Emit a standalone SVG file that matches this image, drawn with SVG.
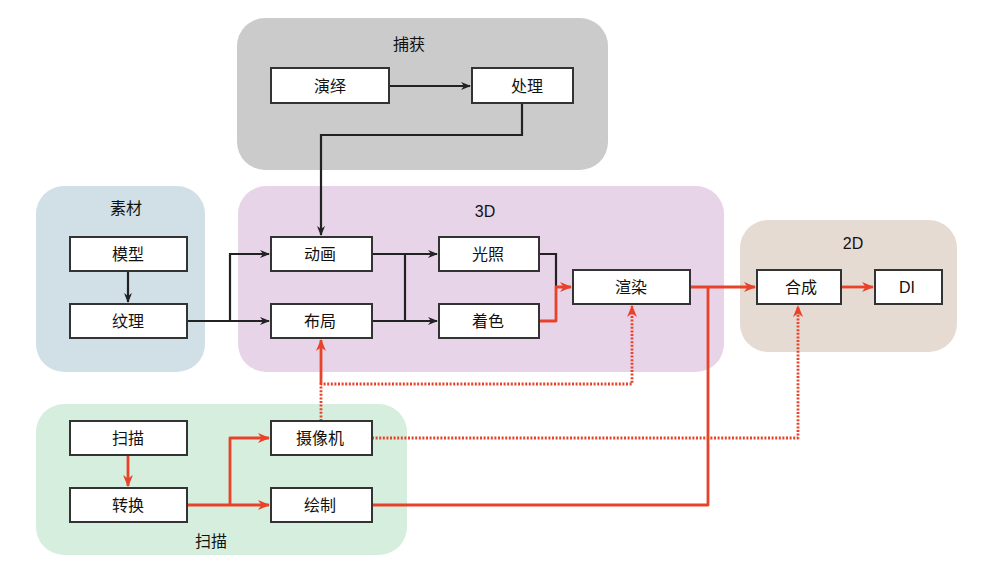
<svg xmlns="http://www.w3.org/2000/svg" width="983" height="573" viewBox="0 0 983 573">
<style>
.grp{stroke:none}
.node rect{fill:#fff;stroke:#333;stroke-width:2}
text{font-family:"Liberation Sans","Noto Sans CJK SC",sans-serif;font-size:16px;fill:#111;text-anchor:middle;dominant-baseline:central}
.k{fill:none;stroke:#222;stroke-width:2.2}
.r{fill:none;stroke:#e8432a;stroke-width:2.8;stroke-linejoin:round}
.d{fill:none;stroke:#e8432a;stroke-width:2.8;stroke-dasharray:2 1.6;stroke-linejoin:round}
</style>
<defs>
<marker id="ak" markerWidth="10" markerHeight="10" refX="9" refY="5" orient="auto" markerUnits="userSpaceOnUse"><path d="M0,1 L10,5 L0,9 L3,5 z" fill="#222"/></marker>
<marker id="ar" markerWidth="12" markerHeight="12" refX="11" refY="6" orient="auto" markerUnits="userSpaceOnUse"><path d="M0,1 L12,6 L0,11 L3.5,6 z" fill="#e8432a"/></marker>
</defs>
<rect width="983" height="573" fill="#fff"/>
<g id="group-capture"><rect class="grp" x="237" y="18" width="371" height="152" rx="28" fill="#cbcbcb"/><text x="409" y="44">捕获</text></g>
<g id="group-assets"><rect class="grp" x="36" y="186" width="169" height="186" rx="28" fill="#d0e0e6"/><text x="126" y="208">素材</text></g>
<g id="group-3d"><rect class="grp" x="238" y="186" width="486" height="186" rx="28" fill="#e8d4e8"/><text x="485" y="211">3D</text></g>
<g id="group-2d"><rect class="grp" x="740" y="220" width="217" height="132" rx="28" fill="#e6dbd3"/><text x="853" y="243">2D</text></g>
<g id="group-scan"><rect class="grp" x="36" y="404" width="371" height="151" rx="28" fill="#d6eedd"/><text x="211" y="541">扫描</text></g>

<g id="connectors">
<path class="k" d="M389,86 H470" marker-end="url(#ak)"/>
<path class="k" d="M522,103 V135 H321 V235" marker-end="url(#ak)"/>
<path class="k" d="M128,271 V302" marker-end="url(#ak)"/>
<path class="k" d="M187,321 H269" marker-end="url(#ak)"/>
<path class="k" d="M230,321 V254 H269" marker-end="url(#ak)"/>
<path class="k" d="M372,254 H437" marker-end="url(#ak)"/>
<path class="k" d="M372,321 H437" marker-end="url(#ak)"/>
<path class="k" d="M405,254 V321"/>
<path class="k" d="M539,254 H556 V287"/>
<path class="r" d="M539,321 H556 V287 H571" marker-end="url(#ar)"/>
<path class="r" d="M690,287 H755" marker-end="url(#ar)"/>
<path class="r" d="M372,505 H708 V287"/>
<path class="r" d="M841,287 H873" marker-end="url(#ar)"/>
<path class="r" d="M128,455 V486" marker-end="url(#ar)"/>
<path class="r" d="M187,505 H269" marker-end="url(#ar)"/>
<path class="r" d="M230,505 V438 H269" marker-end="url(#ar)"/>
<path class="r" d="M321,384 V340" marker-end="url(#ar)"/>
<path class="d" d="M321,421 V384 H632 V306" marker-end="url(#ar)"/>
<path class="d" d="M372,438 H798 V306" marker-end="url(#ar)"/>
</g>

<g id="n-yanyi" class="node"><rect x="271" y="68" width="118" height="35"/><text x="330" y="86">演绎</text></g>
<g id="n-chuli" class="node"><rect x="472" y="68" width="101" height="35"/><text x="527" y="86">处理</text></g>
<g id="n-moxing" class="node"><rect x="70" y="237" width="117" height="34"/><text x="128" y="254">模型</text></g>
<g id="n-wenli" class="node"><rect x="70" y="304" width="117" height="34"/><text x="128" y="321">纹理</text></g>
<g id="n-donghua" class="node"><rect x="271" y="237" width="101" height="34"/><text x="320" y="254">动画</text></g>
<g id="n-buju" class="node"><rect x="271" y="304" width="101" height="34"/><text x="320" y="321">布局</text></g>
<g id="n-guangzhao" class="node"><rect x="439" y="237" width="100" height="34"/><text x="488" y="254">光照</text></g>
<g id="n-zhuose" class="node"><rect x="439" y="304" width="100" height="34"/><text x="488" y="321">着色</text></g>
<g id="n-xuanran" class="node"><rect x="573" y="270" width="117" height="34"/><text x="631" y="287">渲染</text></g>
<g id="n-hecheng" class="node"><rect x="757" y="270" width="84" height="34"/><text x="801" y="287">合成</text></g>
<g id="n-di" class="node"><rect x="875" y="270" width="67" height="34"/><text x="907" y="287">DI</text></g>
<g id="n-saomiao" class="node"><rect x="70" y="421" width="117" height="34"/><text x="128" y="438">扫描</text></g>
<g id="n-zhuanhuan" class="node"><rect x="70" y="488" width="117" height="34"/><text x="128" y="505">转换</text></g>
<g id="n-shexiangji" class="node"><rect x="271" y="421" width="101" height="34"/><text x="320" y="438">摄像机</text></g>
<g id="n-huizhi" class="node"><rect x="271" y="488" width="101" height="34"/><text x="320" y="505">绘制</text></g>
</svg>
